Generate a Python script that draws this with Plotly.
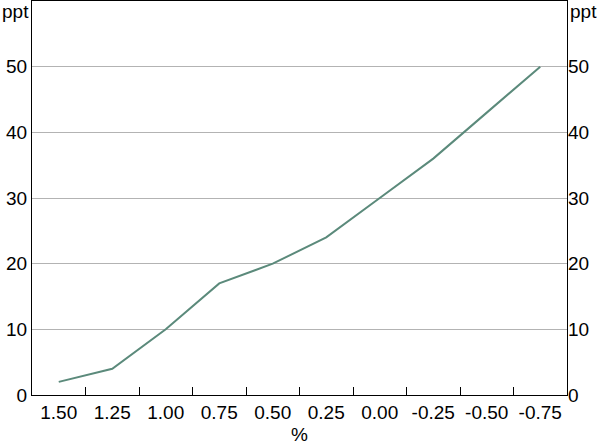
import plotly.graph_objects as go

categories = ["1.50", "1.25", "1.00", "0.75", "0.50", "0.25", "0.00", "-0.25", "-0.50", "-0.75"]
values = [2, 4, 10, 17, 20, 24, 30, 36, 43, 50]
y_ticks = [0, 10, 20, 30, 40, 50]

font = dict(family="Liberation Sans, Arial, sans-serif", size=19, color="black")

fig = go.Figure()
fig.add_trace(go.Scatter(x=categories, y=values, mode="lines",
                         line=dict(color="#5B8A7B", width=2), showlegend=False))
fig.add_trace(go.Scatter(x=categories, y=values, mode="lines", yaxis="y2",
                         line=dict(color="rgba(0,0,0,0)", width=0), showlegend=False,
                         hoverinfo="skip"))

fig.update_layout(
    width=599, height=445,
    margin=dict(l=32, r=32, t=1, b=50),
    plot_bgcolor="white", paper_bgcolor="white",
    font=font,
    xaxis=dict(type="category", range=[-0.5, 9.5], tickson="boundaries", ticks="inside",
               ticklen=8, tickcolor="black", showline=True, linecolor="black", linewidth=1,
               mirror=True, showgrid=False, tickfont=font, automargin=False,
               title=dict(text="%", font=font, standoff=8)),
    yaxis=dict(range=[0, 60], tickvals=y_ticks, showgrid=True, gridcolor="#B3B3B3",
               gridwidth=1, showline=True, linecolor="black", linewidth=1, mirror=True,
               ticks="", tickfont=font, zeroline=False, automargin=False),
    yaxis2=dict(range=[0, 60], tickvals=y_ticks, overlaying="y", side="right",
                showgrid=False, showline=False, ticks="", tickfont=font, zeroline=False,
                automargin=False),
    annotations=[
        dict(text="ppt", x=0, y=1, xref="paper", yref="paper", xanchor="right",
             yanchor="top", showarrow=False, font=font, xshift=-1, yshift=2),
        dict(text="ppt", x=1, y=1, xref="paper", yref="paper", xanchor="left",
             yanchor="top", showarrow=False, font=font, xshift=1, yshift=2),
    ],
)

fig.write_html("out.html", config={"displayModeBar": False},
               post_script="document.body.style.margin='0';document.body.style.padding='0';")
